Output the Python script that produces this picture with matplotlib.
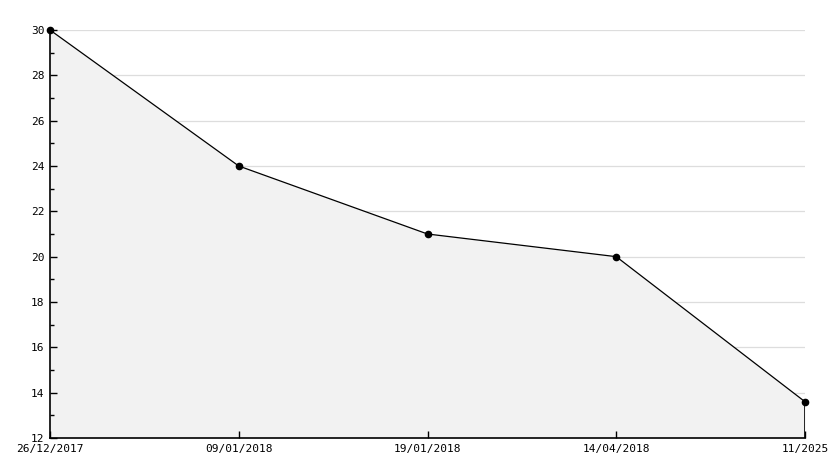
import matplotlib.pyplot as plt
from matplotlib.ticker import MultipleLocator

labels = ["26/12/2017", "09/01/2018", "19/01/2018", "14/04/2018", "11/2025"]
values = [30, 24, 21, 20, 13.6]
y_min, y_max = 12, 30

x = list(range(len(labels)))

fig = plt.figure(figsize=(8.34, 4.68), dpi=100)
ax = fig.add_axes([50 / 834, 30 / 468, 755 / 834, 408 / 468])

ax.set_xlim(x[0], x[-1])
ax.set_ylim(y_min, y_max)
ax.set_xticks(x)
ax.set_xticklabels(labels)
ax.yaxis.set_major_locator(MultipleLocator(2))
ax.yaxis.set_minor_locator(MultipleLocator(1))

# gridlines behind the fill, ticks on top of it
grid_y = [t for t in ax.get_yticks() if y_min < t <= y_max]
ax.hlines(grid_y, x[0], x[-1], color="#dddddd", lw=0.9, zorder=0.5)

ax.fill_between(x, values, y_min, color="#f2f2f2", lw=0, zorder=1)
ax.plot(x, values, color="black", lw=0.9, marker="o", ms=4.5, zorder=4,
        clip_on=False)
ax.vlines(x[-1], y_min, values[-1], color="black", lw=1.2, zorder=3)

for side in ["top", "right"]:
    ax.spines[side].set_visible(False)
for side in ["left", "bottom"]:
    ax.spines[side].set_linewidth(1.2)

ax.tick_params(axis="both", which="major", direction="in", length=5, width=1,
               labelsize=8, pad=4)
ax.tick_params(axis="y", which="minor", direction="in", length=3, width=1,
               left=True)
for lab in ax.get_xticklabels() + ax.get_yticklabels():
    lab.set_fontfamily("DejaVu Sans Mono")

fig.savefig("out.png", dpi=100)
